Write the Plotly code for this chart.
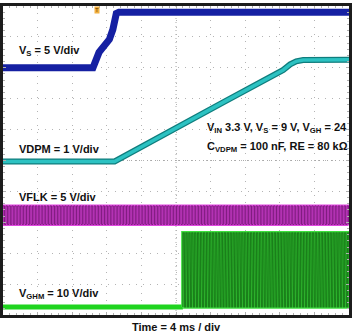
import numpy as np
import plotly.graph_objects as go

# ---- scope time base ----
MS_PER_DIV = 4.0
N_DIV = 10
T_END = MS_PER_DIV * N_DIV          # 40 ms record length

# channel scale (V/div) and ground marker (div above bottom of screen)
vs_scale, vs_ground = 5.0, 8.0
vdpm_scale, vdpm_ground = 1.0, 4.97
vflk_scale, vflk_ground = 5.0, 2.93
vghm_scale, vghm_ground = 10.0, 0.26

# VS supply rising to 9 V
vs_time = [0.0, 10.4, 11.1, 11.8, 12.3, 12.7, 13.1, 13.4, 40.0]
vs_volt = [0.0, 0.0, 2.5, 4.0, 4.6, 6.2, 8.8, 9.0, 9.0]

# VDPM soft-start ramp (CVDPM = 100 nF)
vdpm_time = [0.0, 12.9, 25.5, 32.4, 33.2, 33.9, 34.7, 40.0]
vdpm_volt = [0.0, 0.0, 1.92, 2.96, 3.14, 3.24, 3.28, 3.29]

# VFLK clock
flk_period = 0.34                   # ms
flk_low, flk_high = 0.0, 3.0        # V

# VGHM gate-pulse modulation output
ghm_start = 20.8                    # ms, first pulse after VDPM threshold
ghm_period = 0.34                   # ms
ghm_low, ghm_mid, ghm_high = 0.0, 8.9, 24.0   # V


def to_div(volts, scale, ground):
    return [ground + v / scale for v in volts]


def clock_wave(t0, t1, period, lo, hi):
    xs, ys = [], []
    for t in np.arange(t0, t1, period):
        xs += [t, t, t + period / 2, t + period / 2]
        ys += [lo, hi, hi, lo]
    return xs, ys


def ghm_wave(t0, t1, period, lo, mid, hi):
    xs, ys = [], []
    for t in np.arange(t0, t1, period):
        a, b = t + 0.45 * period, t + 0.6 * period
        xs += [t, t, a, a, b, b]
        ys += [lo, hi, hi, mid, mid, lo]
    return xs, ys


flk_t, flk_v = clock_wave(0.0, T_END, flk_period, flk_low, flk_high)
ghm_t, ghm_v = ghm_wave(ghm_start, T_END, ghm_period, ghm_low, ghm_mid, ghm_high)

fig = go.Figure()

# VGHM: idle level before switching
fig.add_trace(go.Scatter(x=[0.0, ghm_start], y=to_div([ghm_low, ghm_low], vghm_scale, vghm_ground),
                         mode="lines", line=dict(color="#1fd41f", width=5), hoverinfo="skip"))
# VGHM switching (persistence look: bright wide pass, darker thin pass)
fig.add_trace(go.Scatter(x=ghm_t, y=to_div(ghm_v, vghm_scale, vghm_ground),
                         mode="lines", line=dict(color="#3ee03e", width=3.5), hoverinfo="skip"))
fig.add_trace(go.Scatter(x=ghm_t, y=to_div(ghm_v, vghm_scale, vghm_ground),
                         mode="lines", line=dict(color="#1a801a", width=1.2), hoverinfo="skip"))

# VFLK clock
fig.add_trace(go.Scatter(x=flk_t, y=to_div(flk_v, vflk_scale, vflk_ground),
                         mode="lines", line=dict(color="#e048e0", width=3), hoverinfo="skip"))
fig.add_trace(go.Scatter(x=flk_t, y=to_div(flk_v, vflk_scale, vflk_ground),
                         mode="lines", line=dict(color="#801c80", width=1), hoverinfo="skip"))

# VDPM ramp
fig.add_trace(go.Scatter(x=vdpm_time, y=to_div(vdpm_volt, vdpm_scale, vdpm_ground),
                         mode="lines", line=dict(color="#0f7d7d", width=6), hoverinfo="skip"))
fig.add_trace(go.Scatter(x=vdpm_time, y=to_div(vdpm_volt, vdpm_scale, vdpm_ground),
                         mode="lines", line=dict(color="#2cc2c2", width=3.5), hoverinfo="skip"))

# VS supply
fig.add_trace(go.Scatter(x=vs_time, y=to_div(vs_volt, vs_scale, vs_ground),
                         mode="lines", line=dict(color="#1520a2", width=7), hoverinfo="skip"))

FONT = "Liberation Sans, Arial, sans-serif"
FSIZE = 11


def label(x, y, text, **kw):
    fig.add_annotation(x=x, y=y, text=text, showarrow=False, xanchor="left",
                       yanchor="middle", font=dict(family=FONT, size=FSIZE, color="#111"), **kw)


label(1.6, 8.56, "<b>V<sub>S</sub> = 5 V/div</b>")
label(1.6, 5.38, "<b>VDPM = 1 V/div</b>")
label(1.6, 3.81, "<b>VFLK = 5 V/div</b>")
label(1.6, 0.68, "<b>V<sub>GHM</sub> = 10 V/div</b>")
label(23.4, 6.06, "<b>V<sub>IN</sub> 3.3 V, V<sub>S</sub> = 9 V, V<sub>GH</sub> = 24</b>")
label(23.4, 5.45, "<b>C<sub>VDPM</sub> = 100 nF, RE = 80 kΩ</b>")

fig.add_annotation(x=0.5, y=-0.038, xref="paper", yref="paper", text="<b>Time = 4 ms / div</b>",
                   showarrow=False, xanchor="center", yanchor="middle",
                   font=dict(family=FONT, size=FSIZE, color="#111"))

# trigger marker
fig.add_annotation(x=10.9, y=9.86, text="T", showarrow=False, bgcolor="#f2b040",
                   font=dict(family=FONT, size=6, color="#6a3c00"), borderpad=0)

# centre graticule lines
fig.add_shape(type="line", xref="paper", yref="y", x0=0, x1=1, y0=5, y1=5,
              line=dict(color="#a8a8a8", width=1, dash="1px,3px"), layer="below")
fig.add_shape(type="line", xref="x", yref="paper", x0=20, x1=20, y0=0, y1=1,
              line=dict(color="#a8a8a8", width=1, dash="1px,3px"), layer="below")

grid = dict(showgrid=True, gridcolor="#b4b4b4", gridwidth=1, griddash="1px,6px",
            zeroline=False, showline=True, linewidth=3, linecolor="#1c1c1c", mirror="allticks",
            ticks="inside", ticklen=3, tickcolor="#b0b0b0", showticklabels=False,
            fixedrange=True)

fig.update_layout(
    width=355, height=334,
    margin=dict(l=3, r=4, t=3, b=19),
    paper_bgcolor="white", plot_bgcolor="white",
    showlegend=False,
    xaxis=dict(range=[0, T_END], dtick=MS_PER_DIV,
               minor=dict(dtick=MS_PER_DIV / 5, ticks="inside", ticklen=2, tickcolor="#b0b0b0"),
               **grid),
    yaxis=dict(range=[0, N_DIV], dtick=1,
               minor=dict(dtick=0.2, ticks="inside", ticklen=2, tickcolor="#b0b0b0"),
               **grid),
    xaxis2=dict(range=[0, T_END], overlaying="x", anchor="free", position=0.5,
                showgrid=False, zeroline=False, showline=False, showticklabels=False,
                ticks="outside", ticklen=3, tickcolor="#a0a0a0", dtick=MS_PER_DIV / 5),
    yaxis2=dict(range=[0, N_DIV], overlaying="y", anchor="free", position=0.5,
                showgrid=False, zeroline=False, showline=False, showticklabels=False,
                ticks="outside", ticklen=3, tickcolor="#a0a0a0", dtick=0.2),
)

fig.write_html("out.html")
